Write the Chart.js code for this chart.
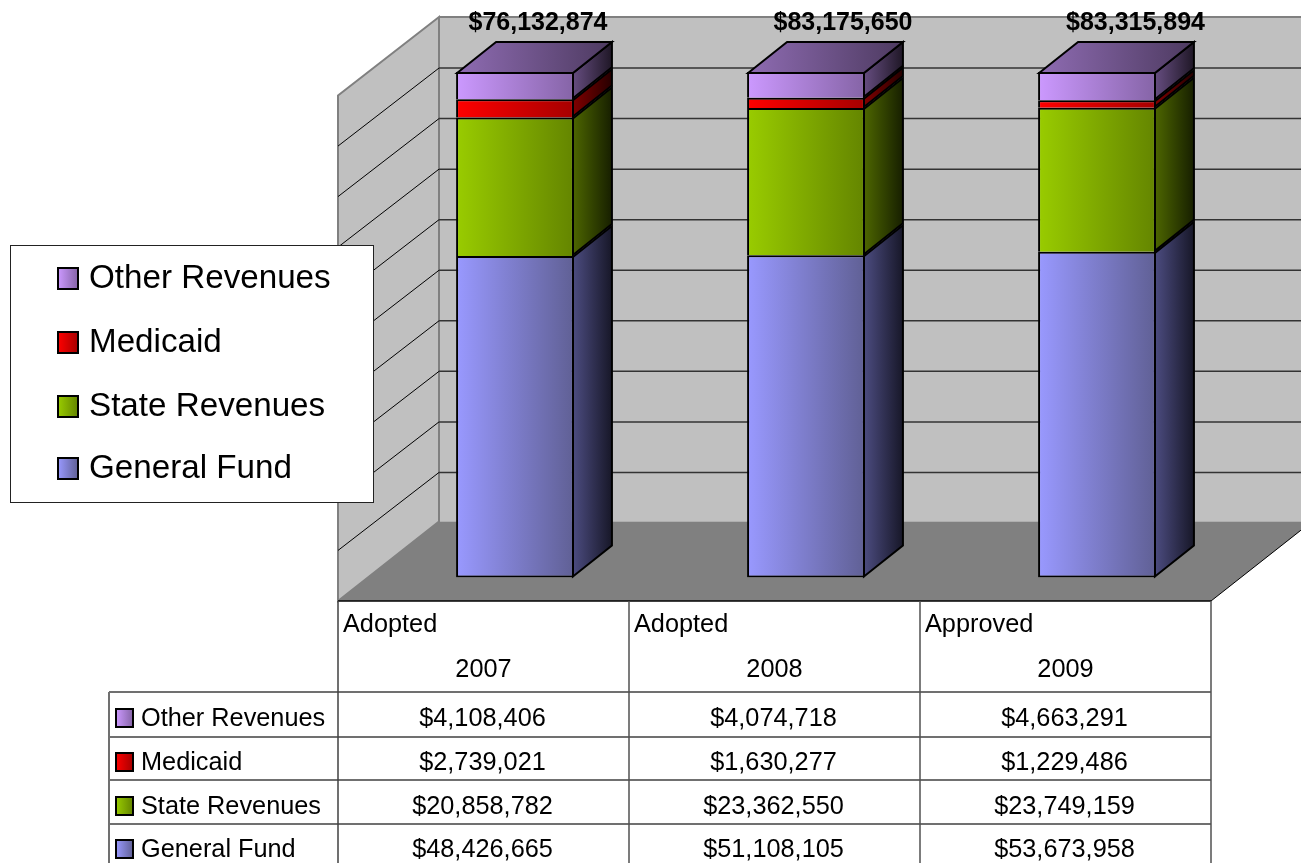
<!DOCTYPE html>
<html>
<head>
<meta charset="utf-8">
<title>Revenues</title>
<script src="https://cdn.jsdelivr.net/npm/chart.js@4"></script>
<style>
    html, body { margin: 0; padding: 0; background: #fff; overflow: hidden; }
    canvas { display: block; }
</style>
</head>
<body>
<canvas id="chart" width="1301" height="863"></canvas>
<script>
const stages = ['Adopted', 'Adopted', 'Approved'];
const years = ['2007', '2008', '2009'];
const generalFund = [48426665, 51108105, 53673958];
const stateRevenues = [20858782, 23362550, 23749159];
const medicaid = [2739021, 1630277, 1229486];
const otherRevenues = [4108406, 4074718, 4663291];
const totalLabels = ['$76,132,874', '$83,175,650', '$83,315,894'];
const yTickStep = 10;

const FONT = '"Liberation Sans", Arial, sans-serif';
const BAR_SHARE = 0.405;
const BAR_DEPTH = { x: 39, y: -31 };
const BACK_WALL = { x: 69.5, y: -56 };
const FRONT_EDGE = { x: -31.5, y: 23.5 };
const TOTAL_SHIFT = [23, 37, 38.5];

const series = [
    { label: 'General Fund', values: generalFund, front: ['#9999ff', '#606095'], side: ['#4c4c80', '#171728'] },
    { label: 'State Revenues', values: stateRevenues, front: ['#99cc00', '#648500'], side: ['#4d6600', '#171f00'] },
    { label: 'Medicaid', values: medicaid, front: ['#ff0000', '#a60000'], side: ['#800000', '#260000'] },
    { label: 'Other Revenues', values: otherRevenues, front: ['#cc99ff', '#8564a6'], side: ['#664d80', '#1f1726'], top: ['#8f6cb3', '#4d3a60'] }
];

// every bar is shown as its share of the year's sum
const shares = (values) => values.map((v, i) => {
    const sum = series.reduce((acc, s) => acc + s.values[i], 0);
    return v / sum * 100;
});

const hGradient = (ctx, x0, x1, stops) => {
    const g = ctx.createLinearGradient(x0, 0, x1, 0);
    g.addColorStop(0, stops[0]);
    g.addColorStop(1, stops[1]);
    return g;
};

const poly = (ctx, pts, fill, stroke, lineWidth) => {
    ctx.beginPath();
    pts.forEach((p, i) => i ? ctx.lineTo(p[0], p[1]) : ctx.moveTo(p[0], p[1]));
    ctx.closePath();
    if (fill) { ctx.fillStyle = fill; ctx.fill(); }
    if (stroke) { ctx.strokeStyle = stroke; ctx.lineWidth = lineWidth; ctx.stroke(); }
};

const line = (ctx, x0, y0, x1, y1, color, width) => {
    ctx.beginPath();
    ctx.moveTo(x0, y0);
    ctx.lineTo(x1, y1);
    ctx.strokeStyle = color;
    ctx.lineWidth = width;
    ctx.stroke();
};

const marker = (ctx, x, y, w, h, s) => {
    ctx.fillStyle = hGradient(ctx, x, x + w, s.front);
    ctx.fillRect(x, y, w, h);
    ctx.strokeStyle = '#000';
    ctx.lineWidth = 2;
    ctx.strokeRect(x, y, w, h);
};

const roomPlugin = {
    id: 'room',
    beforeDatasetsDraw(chart) {
        const { ctx, chartArea: a, scales: { y } } = chart;
        const y0 = y.getPixelForValue(0), y100 = y.getPixelForValue(100);
        const frontL = a.left + FRONT_EDGE.x, frontR = a.right + FRONT_EDGE.x;
        const backL = a.left + BACK_WALL.x, backR = a.right + BACK_WALL.x;
        const wallTop = y100 + BACK_WALL.y + 1;

        ctx.save();
        // back wall
        ctx.fillStyle = '#c0c0c0';
        ctx.fillRect(backL, wallTop, backR - backL, y0 + BACK_WALL.y - wallTop);
        line(ctx, backL, wallTop, backR, wallTop, '#808080', 2);

        // left wall
        poly(ctx, [
            [frontL, y100 + FRONT_EDGE.y],
            [backL, wallTop],
            [backL, y0 + BACK_WALL.y],
            [frontL, y0 + FRONT_EDGE.y]
        ], '#c0c0c0', '#808080', 2);

        // gridlines on both walls, from the value axis ticks
        y.ticks.forEach(t => {
            if (t.value === 0 || t.value === 100) return;
            const p = y.getPixelForValue(t.value);
            const back = p + BACK_WALL.y + 1.5;
            line(ctx, backL, back, backR, back, '#333', 1.5);
            line(ctx, backL, back, frontL, p + FRONT_EDGE.y, '#000', 1);
        });

        // floor
        poly(ctx, [
            [frontL, y0 + FRONT_EDGE.y],
            [backL, y0 + BACK_WALL.y],
            [backR, y0 + BACK_WALL.y],
            [frontR, y0 + FRONT_EDGE.y]
        ], '#808080');
        line(ctx, frontR, y0 + FRONT_EDGE.y, backR, y0 + BACK_WALL.y, '#000', 1);

        // side and top faces of the bars
        series.forEach((s, di) => {
            chart.getDatasetMeta(di).data.forEach(bar => {
                const p = bar.getProps(['x', 'y', 'base', 'width'], true);
                const left = p.x - p.width / 2, right = p.x + p.width / 2;
                const edge = right - 1;
                poly(ctx, [
                    [edge, p.y + 1],
                    [edge + BAR_DEPTH.x, p.y + 1 + BAR_DEPTH.y],
                    [edge + BAR_DEPTH.x, p.base - 1 + BAR_DEPTH.y],
                    [edge, p.base - 1]
                ], hGradient(ctx, edge, edge + BAR_DEPTH.x, s.side), '#000', 2);
                if (s.top) {
                    poly(ctx, [
                        [left + 1, p.y + 1],
                        [left + 1 + BAR_DEPTH.x, p.y + 1 + BAR_DEPTH.y],
                        [edge + BAR_DEPTH.x, p.y + 1 + BAR_DEPTH.y],
                        [edge, p.y + 1]
                    ], hGradient(ctx, left, edge + BAR_DEPTH.x, s.top), '#000', 2);
                }
            });
        });
        ctx.restore();
    },
    afterDatasetsDraw(chart) {
        const { ctx, scales: { x } } = chart;
        ctx.save();
        ctx.fillStyle = '#000';
        ctx.font = 'bold 25px ' + FONT;
        ctx.textAlign = 'center';
        ctx.textBaseline = 'alphabetic';
        totalLabels.forEach((t, i) => {
            ctx.fillText(t, x.getPixelForValue(i) + TOTAL_SHIFT[i], 30);
        });
        ctx.restore();
    }
};

const legendPlugin = {
    id: 'boxLegend',
    afterDraw(chart) {
        const { ctx } = chart;
        const rows = chart.data.datasets.map((d, i) => ({ text: d.label, s: series[i] })).reverse();
        const markerY = [268, 332, 396, 458];
        const textY = [288, 352, 416, 478];
        ctx.save();
        ctx.fillStyle = '#fff';
        ctx.fillRect(10, 245, 363, 257);
        ctx.strokeStyle = '#222';
        ctx.lineWidth = 1;
        ctx.strokeRect(10.5, 245.5, 363, 257);
        ctx.font = '33.2px ' + FONT;
        ctx.textAlign = 'left';
        rows.forEach((r, i) => {
            marker(ctx, 58, markerY[i], 20, 21, r.s);
            ctx.fillStyle = '#000';
            ctx.fillText(r.text, 89, textY[i]);
        });
        ctx.restore();
    }
};

const tablePlugin = {
    id: 'dataTable',
    afterDraw(chart) {
        const { ctx, chartArea: a, scales: { x, y } } = chart;
        const step = x.width / stages.length;
        const top = y.getPixelForValue(0) + FRONT_EDGE.y;
        const left = a.left + FRONT_EDGE.x;
        const right = a.right + FRONT_EDGE.x;
        const bottom = 863;
        const rowLines = [692, 737, 780, 824];
        const rowBase = [726, 770, 814, 857];
        const rowMark = [709, 753, 797, 840];
        const outer = 109;
        const rows = [...series].reverse();

        ctx.save();
        ctx.fillStyle = '#fff';
        ctx.fillRect(left, top, right - left, bottom - top);
        ctx.fillRect(outer, rowLines[0], left - outer, bottom - rowLines[0]);

        line(ctx, left, top, right, top, '#000', 1.5);
        rowLines.forEach(ly => line(ctx, outer, ly, right, ly, '#404040', 1.5));
        line(ctx, left, top, left, bottom, '#404040', 1.5);
        for (let i = 1; i <= stages.length; i++) {
            const cx = left + step * i;
            line(ctx, cx, top, cx, bottom, '#505050', 1.5);
        }
        line(ctx, outer, rowLines[0], outer, bottom, '#707070', 2);

        ctx.fillStyle = '#000';
        ctx.font = '25.3px ' + FONT;
        stages.forEach((label, i) => {
            const cl = left + step * i;
            ctx.textAlign = 'left';
            ctx.fillText(label, cl + 5, 632);
            ctx.textAlign = 'center';
            ctx.fillText(years[i], cl + step / 2, 677);
        });

        rows.forEach((s, r) => {
            marker(ctx, 116, rowMark[r], 17, 18, s);
            ctx.fillStyle = '#000';
            ctx.textAlign = 'left';
            ctx.fillText(s.label, 141, rowBase[r]);
            ctx.textAlign = 'center';
            s.values.forEach((v, i) => {
                ctx.fillText('$' + v.toLocaleString('en-US'), left + step * i + step / 2 - 1, rowBase[r]);
            });
        });
        ctx.restore();
    }
};

const whiteBackground = {
    id: 'whiteBackground',
    beforeDraw(chart) {
        chart.ctx.save();
        chart.ctx.fillStyle = '#fff';
        chart.ctx.fillRect(0, 0, chart.width, chart.height);
        chart.ctx.restore();
    }
};

const barFill = (s) => (c) => {
    const { chart, dataIndex } = c;
    if (!chart.chartArea) return s.front[0];
    const x = chart.scales.x;
    const half = x.width / stages.length * BAR_SHARE / 2;
    const mid = x.getPixelForValue(dataIndex);
    return hGradient(chart.ctx, mid - half, mid + half, s.front);
};

new Chart(document.getElementById('chart'), {
    type: 'bar',
    data: {
        labels: years,
        datasets: series.map((s, i) => ({
            label: s.label,
            data: shares(s.values),
            backgroundColor: barFill(s),
            borderColor: '#000',
            borderWidth: { top: 2, left: 2, right: 2, bottom: i === 0 ? 2 : 0 },
            borderSkipped: false,
            categoryPercentage: BAR_SHARE,
            barPercentage: 1
        }))
    },
    options: {
        responsive: false,
        animation: false,
        layout: { padding: { left: 369.5, right: 58.5, top: 72, bottom: 285.5 } },
        plugins: { legend: { display: false }, tooltip: { enabled: false } },
        scales: {
            x: { display: false, stacked: true },
            y: { display: false, stacked: true, min: 0, max: 100, ticks: { stepSize: yTickStep } }
        }
    },
    plugins: [whiteBackground, roomPlugin, legendPlugin, tablePlugin]
});
</script>
</body>
</html>
